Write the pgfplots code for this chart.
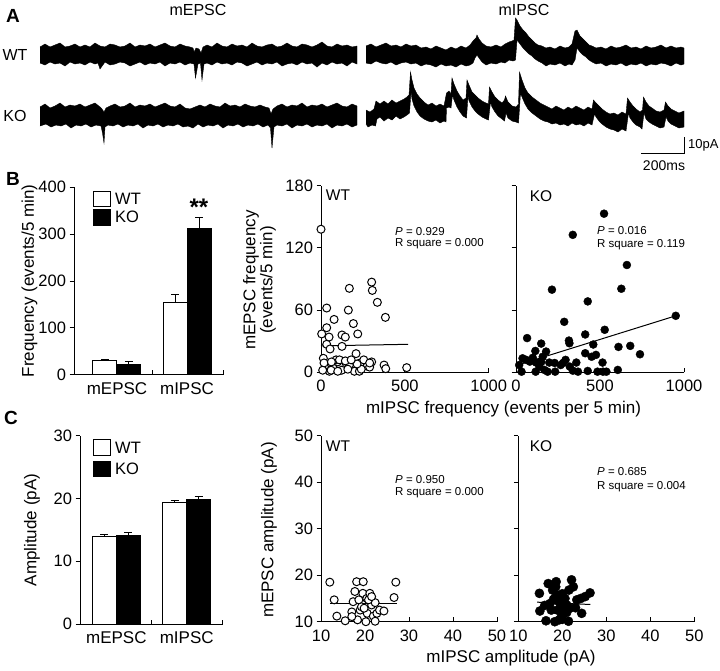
\documentclass[border=0pt]{standalone}
\usepackage{pgfplots}
\pgfplotsset{compat=1.18}
\usepackage{fontspec}
\setmainfont{Liberation Sans}
\setsansfont{Liberation Sans}
\newcommand{\fs}[1]{\fontsize{#1}{#1}\selectfont}
\pgfplotsset{
 panel/.style={scale only axis, axis lines*=left, clip=false, tick align=outside,
   major tick length=4.5pt, axis line style={line width=1pt},
   every tick/.style={line width=1pt, black},
   tick label style={font=\fs{16.5}},
   /pgf/number format/assume math mode=true, /pgf/number format/1000 sep={},
   anchor=south west},
 wtmark/.style={only marks, mark=*, mark size=4pt, mark options={fill=white, draw=black, line width=1pt}},
 komark/.style={only marks, mark=*, mark size=4pt, mark options={fill=black, draw=black}},
 bars/.style={draw=black, line width=1pt, error bars/.cd, y dir=plus, y explicit,
   error bar style={line width=1pt, black}, error mark options={rotate=90, mark size=4pt, line width=1pt, black}},
}
\begin{document}
\begin{tikzpicture}[x=1pt,y=1pt]
\useasboundingbox (0pt,0pt) rectangle (720pt,670pt);

% ---------- B: bar chart ----------
\begin{axis}[panel, at={(74pt,295pt)}, width=149pt, height=188pt,
  xmin=0.386, xmax=2.514, ymin=0, ymax=400, ytick={0,100,200,300,400},
  xtick={1,2}, xticklabels={mEPSC,mIPSC}, major x tick style={draw=none},
  x tick label style={font=\fs{17}},
  ybar=0pt, bar width=24pt]
\addplot[fill=white, bars] coordinates {(1,29.8) +- (0,4.2) (2,155) +- (0,17)};
\addplot[fill=black, bars] coordinates {(1,22.7) +- (0,5) (2,311) +- (0,25)};
\draw[line width=1pt] (axis cs:1.5,0) -- ++(0pt,4.5pt);
\draw[line width=1pt] (axis cs:2.514,0) -- ++(0pt,4.5pt);
\end{axis}

% ---------- B: WT scatter ----------
\begin{axis}[panel, at={(321pt,297.7pt)}, width=167.7pt, height=186.6pt,
  xmin=0, xmax=1000, ymin=0, ymax=180, xtick={0,500,1000}, ytick={0,60,120,180},
  major x tick style={draw=none}]
\addplot[black, line width=1pt, no marks] coordinates {(0,25.5) (520,27)};
\addplot[wtmark] coordinates {
(0,138)(34,62)(78,51)(34,43)(4,37)(48,34)(34,27)(54,22.5)(14,13.5)(40,7)(24,4)(50,1)
(99,10)(123,2)(149,9)(169,7)(199,1)(233,9)(229,1)(276,6)(302,10)(376,7)(386,3.5)(511,4.5)
(169,81)(163,60)(193,47)(219,37)(125,36)(145,34)(125,25)(209,18)(302,87)(306,79)(336,67.5)
(384,53)(90,12)(110,12)(72,4)(160,3)(240,3)(290,5)(18,9)(62,10)(145,11)(215,8)(60,2)(100,1)
(10,2)(180,12)(255,12)(290,9)};
\draw[line width=1pt] (axis cs:500,0) -- ++(0pt,4.5pt);
\draw[line width=1pt] (axis cs:1000,0) -- ++(0pt,4.5pt);
\end{axis}

% ---------- B: KO scatter ----------
\begin{axis}[panel, at={(516pt,297.7pt)}, width=168pt, height=186.6pt,
  xmin=0, xmax=1000, ymin=0, ymax=180, xtick={0,500,1000}, ytick={0,60,120,180},
  yticklabels={}, major x tick style={draw=none}]
\addplot[black, line width=1pt, no marks] coordinates {(15,7.2) (951,54.5)};
\addplot[komark] coordinates {
(524,153)(338,132.6)(660,103.5)(627,80.6)(214,79.7)(427,68.4)(287,48.7)(951,54.5)(66,33)
(412,36.5)(528,41)(315,30.6)(318,28)(460,26.8)(150,27.7)(115,20.6)(610,24.5)(680,25.5)
(738,17.4)(412,18.4)(476,16.8)(450,15)(179,20)(159,15)(39,13.5)(82,10.3)(120,9.4)(198,9.4)
(19,7)(140,5.5)(169,2.3)(33,0.6)(117,0.6)(188,0.6)(233,0.6)(295,12)(266,7)(320,5.5)(359,9.4)
(338,1.6)(369,0.6)(427,1.3)(485,0.6)(518,0.6)(538,0.6)(515,9.4)(606,2.3)(60,12)(100,14)
(230,9)(280,9)(150,10)};
\draw[line width=1pt] (axis cs:500,0) -- ++(0pt,4.5pt);
\draw[line width=1pt] (axis cs:1000,0) -- ++(0pt,4.5pt);
\end{axis}

% ---------- C: bar chart ----------
\begin{axis}[panel, at={(80pt,46pt)}, width=142.7pt, height=188.3pt,
  xmin=0.484, xmax=2.511, ymin=0, ymax=30, ytick={0,10,20,30},
  xtick={1,2}, xticklabels={mEPSC,mIPSC}, major x tick style={draw=none},
  x tick label style={font=\fs{17}},
  ybar=0pt, bar width=24pt]
\addplot[fill=white, bars] coordinates {(1,13.9) +- (0,0.35) (2,19.3) +- (0,0.4)};
\addplot[fill=black, bars] coordinates {(1,14.1) +- (0,0.4) (2,19.9) +- (0,0.35)};
\draw[line width=1pt] (axis cs:1.503,0) -- ++(0pt,4.5pt);
\draw[line width=1pt] (axis cs:2.511,0) -- ++(0pt,4.5pt);
\end{axis}

% ---------- C: WT scatter ----------
\begin{axis}[panel, at={(321pt,48.3pt)}, width=176pt, height=186pt,
  xmin=10, xmax=50, ymin=10, ymax=50, xtick={10,20,30,40,50}, ytick={10,20,30,40,50},
  major x tick style={draw=none}]
\addplot[black, line width=1pt, no marks] coordinates {(12,13.9) (27.2,13.9)};
\addplot[wtmark] coordinates {
(12.0,18.5)(13.0,14.7)(13.6,11.2)(15.5,10.2)(17.0,12.1)(17.3,14.3)(18.1,18.6)(17.7,16.5)
(19.6,18.6)(19.5,16.1)(18.6,14.7)(18.9,12.5)(18.3,10.4)(20.2,10)(20.5,11.8)(20.4,15)
(19.2,13.2)(21.5,13.6)(22.3,14.1)(21.9,11.2)(22.7,11.8)(22.3,10.1)(23.3,12.5)(24.3,12.3)
(27.0,18.5)(26.6,15.2)(20.8,14.7)(21.1,16.1)(17.0,11.1)(19.8,12.9)(21.5,15.4)};
\draw[line width=1pt] (axis cs:20,10) -- ++(0pt,4.5pt);
\draw[line width=1pt] (axis cs:30,10) -- ++(0pt,4.5pt);
\draw[line width=1pt] (axis cs:40,10) -- ++(0pt,4.5pt);
\draw[line width=1pt] (axis cs:50,10) -- ++(0pt,4.5pt);
\end{axis}

% ---------- C: KO scatter ----------
\begin{axis}[panel, at={(518.3pt,48.3pt)}, width=176pt, height=186pt,
  xmin=10, xmax=50, ymin=10, ymax=50, xtick={10,20,30,40,50}, ytick={10,20,30,40,50},
  yticklabels={}, major x tick style={draw=none}]
\addplot[black, line width=1pt, no marks] coordinates {(14.3,14.2) (26.4,13.7)};
\addplot[komark, mark size=4.6pt] coordinates {
(14.8,16.1)(14.9,12.3)(16.3,10.2)(16.8,18.2)(18.6,18.6)(17.8,16.8)(18.0,14.8)(18.9,15.7)
(19.5,13.9)(18.9,12.5)(19.3,10.4)(20.2,11.8)(21.4,10.1)(20.6,15)(21.5,16.8)(22.1,19)
(21.0,13.6)(21.7,12.9)(23.3,14.7)(24.2,15)(24.4,11.8)(26.3,16.2)(25.2,15.4)(18.3,10)
(19.8,11.1)(17.2,13.9)(18.3,15)(17.5,12.5)(19,14.5)(20,16)(22.5,17.5)(18.5,17.5)(21,12)
(20,10.5)(23,13)(19.7,13)(16,13.5)};
\draw[line width=1pt] (axis cs:20,10) -- ++(0pt,4.5pt);
\draw[line width=1pt] (axis cs:30,10) -- ++(0pt,4.5pt);
\draw[line width=1pt] (axis cs:40,10) -- ++(0pt,4.5pt);
\draw[line width=1pt] (axis cs:50,10) -- ++(0pt,4.5pt);
\end{axis}

% ---------- overlay in pixel coordinates: traces and text ----------
\begin{axis}[at={(0pt,0pt)}, anchor=south west, scale only axis, width=720pt, height=670pt,
  xmin=0, xmax=720, ymin=0, ymax=670, y dir=reverse, hide axis, clip=false]
% WT mEPSC
\addplot[fill=black, draw=black, line width=0.4pt] coordinates {
(40,47)(45,44)(50,47)(55,45)(60,43)(65,47)(70,46)(75,44)(80,47)(85,45)(90,47)(95,43)(100,46)
(105,47)(110,44)(115,45)(120,47)(125,46)(130,43)(135,47)(140,45)(145,46)(150,44)(155,47)
(160,45)(165,43)(170,46)(175,47)(180,44)(185,46)(190,47)(193,48)(194,52)(196,48)(199,49)
(201,53)(203,47)(207,45)(212,47)(217,43)(222,46)(227,47)(232,44)(237,46)(242,45)(247,47)
(252,43)(257,46)(262,47)(267,45)(272,44)(277,47)(282,46)(287,43)(292,46)(297,47)(302,44)
(307,45)(312,47)(317,45)(322,42)(327,46)(332,47)(337,44)(342,46)(347,45)(352,47)(357,46)
(357,64)(352,62)(347,66)(342,63)(337,64)(332,62)(327,65)(322,63)(317,67)(312,63)(307,64)
(302,62)(297,65)(292,63)(287,64)(282,66)(277,62)(272,64)(267,63)(262,65)(257,62)(252,64)
(247,66)(242,63)(237,62)(232,65)(227,63)(222,64)(217,62)(212,65)(207,63)(204,64)(202,80)
(200.5,63)(198,64)(195.5,78)(194,64)(190,63)(185,65)(180,62)(175,64)(170,63)(165,66)(160,62)
(155,64)(150,63)(145,65)(140,62)(135,64)(130,66)(125,63)(120,62)(115,64)(110,65)(105,62)
(100,69)(98,63)(95,64)(90,62)(85,65)(80,63)(75,64)(70,62)(65,66)(60,63)(55,64)(50,62)(45,65)(40,63)};
% WT mIPSC
\addplot[fill=black, draw=black, line width=0.4pt] coordinates {
(366,46)(371,44)(376,47)(381,45)(386,43)(391,46)(396,45)(401,47)(406,44)(411,46)(416,45)
(421,48)(426,47)(431,49)(436,46)(441,48)(446,50)(451,47)(456,49)(461,46)(466,48)(470,45)
(473,41)(476,38)(477,35)(479,39)(482,43)(486,46)(491,47)(496,45)(501,47)(505,44)(509,42)
(512,41)(514,40)(515.5,18)(517,20)(520,26)(523,30)(526,33)(529,37)(532,40)(535,43)(538,45)
(542,46)(546,48)(550,47)(555,49)(560,46)(565,48)(569,47)(572,44)(575,31)(577,30)(580,36)
(583,39)(586,42)(589,45)(592,46)(596,48)(601,47)(606,49)(611,46)(616,48)(621,47)(626,45)
(631,48)(636,47)(641,49)(646,46)(651,48)(656,47)(661,45)(666,48)(671,46)(676,48)(681,47)(684,48)
(684,64)(681,65)(676,63)(671,66)(666,64)(661,63)(656,65)(651,64)(646,66)(641,63)(636,65)
(631,64)(626,66)(621,63)(616,65)(611,64)(606,66)(601,63)(596,64)(592,62)(589,60)(586,57)
(583,55)(580,52)(577,48)(575,60)(572,65)(569,64)(565,66)(560,63)(555,65)(550,64)(546,66)
(542,63)(538,61)(535,59)(532,56)(529,54)(526,51)(523,48)(520,44)(517,40)(515.5,60)(513,61)
(509,60)(505,63)(501,62)(496,64)(491,63)(486,65)(482,62)(479,58)(477,55)(475,58)(473,63)
(470,65)(466,66)(461,64)(456,67)(451,65)(446,66)(441,64)(436,67)(431,65)(426,64)(421,66)
(416,63)(411,64)(406,62)(401,63)(396,65)(391,62)(386,64)(381,63)(376,61)(371,64)(366,63)};
% KO mEPSC
\addplot[fill=black, draw=black, line width=0.4pt] coordinates {
(40,107)(45,104)(50,108)(55,106)(60,103)(65,107)(70,105)(75,106)(80,104)(85,107)(90,105)
(95,103)(100,107)(102,109)(104,112)(106,108)(110,106)(115,104)(120,107)(125,106)(130,103)
(135,107)(140,105)(145,106)(150,104)(155,107)(160,105)(165,103)(170,106)(175,107)(180,104)
(185,108)(190,109)(195,107)(200,105)(205,107)(210,104)(215,106)(220,107)(225,103)(230,106)
(235,105)(240,107)(245,104)(250,106)(255,107)(260,105)(265,107)(269,108)(271,114)(273,109)
(277,106)(282,104)(287,107)(292,105)(297,106)(302,103)(307,107)(312,105)(317,106)(322,104)
(327,107)(332,105)(337,103)(342,106)(347,107)(352,104)(357,106)
(357,125)(352,127)(347,124)(342,126)(337,125)(332,128)(327,124)(322,126)(317,125)(312,127)
(307,124)(302,126)(297,125)(292,128)(287,124)(282,126)(277,125)(274,127)(272,148)(270.5,128)
(268,125)(263,127)(258,124)(253,126)(248,125)(243,127)(238,124)(233,126)(228,125)(223,128)
(218,124)(213,126)(208,125)(203,127)(198,124)(193,128)(188,126)(183,127)(178,124)(173,126)
(168,125)(163,127)(158,124)(153,126)(148,125)(143,128)(138,124)(133,126)(128,125)(123,127)
(118,124)(113,126)(108,125)(105,127)(104,143)(102.5,133)(101,126)(96,125)(91,127)(86,124)
(81,126)(76,125)(71,128)(66,124)(61,126)(56,125)(51,127)(46,124)(40,126)};
% KO mIPSC
\addplot[fill=black, draw=black, line width=0.4pt] coordinates {
(366,110)(370,112)(374,109)(376,101)(380,104)(384,101)(388,104)(392,100)(396,103)(400,101)
(404,99)(407,97)(409,95)(410.5,72)(412,80)(414,88)(417,94)(420,98)(424,102)(428,105)(432,103)
(436,106)(440,104)(444,106)(446.5,93)(449,91)(451,94)(452,78)(454,84)(457,91)(460,96)(463,100)
(466,98)(467,80)(469,85)(472,92)(475,95)(478,98)(482,101)(486,103)(488.5,104)(489.5,87)
(492,92)(495,97)(498,100)(502,103)(504.5,100)(505.5,96)(508,102)(512,106)(516,107)(518.5,104)
(519.5,72)(522,80)(525,88)(528,93)(532,97)(536,100)(540,103)(544,105)(548,107)(552,109)
(556,106)(560,108)(564,110)(568,107)(572,109)(576,106)(580,108)(584,110)(588,107)(592,109)
(593.5,100)(596,103)(599,106)(602,109)(606,112)(610,114)(614,113)(618,115)(622,112)(626,114)
(627.5,98)(630,102)(633,106)(636,109)(640,112)(642.5,110)(643.5,97)(646,102)(649,106)(652,108)
(656,111)(660,112)(664,110)(665.5,102)(668,106)(671,109)(675,111)(679,113)(684,111)
(684,127)(679,128)(675,126)(671,124)(668,121)(666,117)(664,127)(660,128)(656,126)(652,124)
(649,122)(646,119)(644,113)(642,129)(640,127)(636,125)(633,122)(630,118)(628.5,113)(626,131)
(622,129)(618,132)(614,130)(610,129)(606,127)(602,124)(599,121)(596,117)(594.5,114)(592,125)
(588,123)(584,126)(580,124)(576,125)(572,123)(568,126)(564,124)(560,125)(556,123)(552,124)
(548,122)(544,121)(540,119)(536,116)(532,113)(528,109)(525,104)(522,97)(520.5,93)(518.5,123)
(516,122)(512,121)(508,118)(506,113)(504.5,121)(502,119)(498,116)(495,112)(492,107)(490.5,102)
(488.5,120)(486,119)(482,117)(478,114)(475,111)(472,107)(469,101)(468,96)(466.5,118)(463,116)
(460,112)(457,107)(454,100)(452.5,95)(451,108)(449,107)(446.5,108)(446,122)(444,121)(440,123)
(436,120)(432,122)(428,121)(424,119)(420,116)(417,112)(414,106)(412,99)(411,92)(409.5,113)
(407,115)(404,117)(400,119)(396,116)(392,120)(388,118)(384,121)(380,117)(377,119)(375.5,126)
(372,125)(368,127)(366,124)};
% scale bar
\addplot[black, line width=1pt, no marks] coordinates {(641,153) (684.5,153) (684.5,137)};
\node[anchor=west, inner sep=1pt, font=\fs{13}] at (axis cs:687,145) {10pA};
\node[font=\fs{14}] at (axis cs:664,166) {200ms};
% panel letters
\node[font=\fs{19}\bfseries] at (axis cs:13,16) {A};
\node[font=\fs{19}\bfseries] at (axis cs:13,179) {B};
\node[font=\fs{19}\bfseries] at (axis cs:11,418) {C};
% panel A labels
\node[font=\fs{16}] at (axis cs:198,10) {mEPSC};
\node[font=\fs{16}] at (axis cs:524,10) {mIPSC};
\node[font=\fs{16}] at (axis cs:15,55) {WT};
\node[font=\fs{16}] at (axis cs:15,116) {KO};
% bar legends
\draw[line width=1pt, fill=white] (axis cs:93,191) rectangle (axis cs:110,206.5);
\draw[line width=1pt, fill=black] (axis cs:93,209.5) rectangle (axis cs:110,225);
\node[anchor=west, font=\fs{16.5}, inner sep=0pt] at (axis cs:115,198.7) {WT};
\node[anchor=west, font=\fs{16.5}, inner sep=0pt] at (axis cs:115,217.3) {KO};
\draw[line width=1pt, fill=white] (axis cs:93,439) rectangle (axis cs:110,455);
\draw[line width=1pt, fill=black] (axis cs:93,461.5) rectangle (axis cs:110,476.5);
\node[anchor=west, font=\fs{16.5}, inner sep=0pt] at (axis cs:115,447.5) {WT};
\node[anchor=west, font=\fs{16.5}, inner sep=0pt] at (axis cs:115,469) {KO};
\node[font=\fs{24}\bfseries] at (axis cs:199,207) {**};
% axis titles
\node[rotate=90, font=\fs{17}] at (axis cs:29.5,281) {Frequency (events/5 min)};
\node[rotate=90, font=\fs{17}] at (axis cs:32,530) {Amplitude (pA)};
\node[rotate=90, font=\fs{17}] at (axis cs:251,280) {mEPSC frequency};
\node[rotate=90, font=\fs{17}] at (axis cs:268,280) {(events/5 min)};
\node[rotate=90, font=\fs{17}] at (axis cs:269,530) {mEPSC amplitude (pA)};
\node[font=\fs{17}] at (axis cs:503.5,409) {mIPSC frequency (events per 5 min)};
\node[font=\fs{17}] at (axis cs:511,658) {mIPSC amplitude (pA)};
% scatter annotations
\node[font=\fs{15.5}] at (axis cs:338,195) {WT};
\node[font=\fs{15.5}] at (axis cs:541,196) {KO};
\node[font=\fs{15.5}] at (axis cs:338,446) {WT};
\node[font=\fs{15.5}] at (axis cs:541,446) {KO};
\node[anchor=west, inner sep=0pt, font=\fs{11.5}] at (axis cs:395,231.7) {\textit{P} = 0.929};
\node[anchor=west, inner sep=0pt, font=\fs{11.5}] at (axis cs:395,244) {R square = 0.000};
\node[anchor=west, inner sep=0pt, font=\fs{11.5}] at (axis cs:597,231) {\textit{P} = 0.016};
\node[anchor=west, inner sep=0pt, font=\fs{11.5}] at (axis cs:597,245) {R square = 0.119};
\node[anchor=west, inner sep=0pt, font=\fs{11.5}] at (axis cs:395,480) {\textit{P} = 0.950};
\node[anchor=west, inner sep=0pt, font=\fs{11.5}] at (axis cs:395,493) {R square = 0.000};
\node[anchor=west, inner sep=0pt, font=\fs{11.5}] at (axis cs:597,472) {\textit{P} = 0.685};
\node[anchor=west, inner sep=0pt, font=\fs{11.5}] at (axis cs:597,487) {R square = 0.004};
\end{axis}
\end{tikzpicture}
\end{document}
